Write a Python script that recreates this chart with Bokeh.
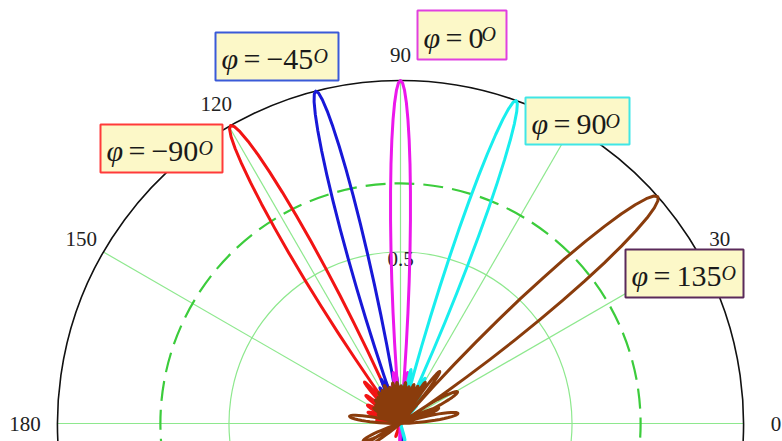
import numpy as np
from bokeh.plotting import figure
from bokeh.models import Range1d
from bokeh.core.properties import value
from bokeh.embed import file_html
from bokeh.resources import INLINE

# ---- data -----------------------------------------------------------------
phi_values = [-90, -45, 0, 90, 135]                 # steering phase, degrees
main_dir = [119.7, 104.3, 90.0, 70.3, 41.4]         # main-lobe direction, deg
main_null = [6.6, 5.5, 5.25, 5.5, 7.9]              # half-angle to first null, deg

red_side_theta = [80, 100, 110, 131, 141, 151, 161, 172, 250]
red_side_r = [0.04, 0.06, 0.13, 0.16, 0.13, 0.11, 0.10, 0.07, 0.04]

blue_side_theta = [70, 80, 89, 95, 113.5, 120, 127, 135, 275]
blue_side_r = [0.04, 0.06, 0.09, 0.14, 0.14, 0.12, 0.09, 0.07, 0.05]

magenta_side_theta = [60, 68, 75, 82, 98, 105, 112, 120, 268]
magenta_side_r = [0.05, 0.08, 0.11, 0.15, 0.15, 0.11, 0.08, 0.05, 0.06]

cyan_side_theta = [48, 55, 61.5, 79, 86, 93, 100, 285]
cyan_side_r = [0.07, 0.10, 0.15, 0.16, 0.11, 0.08, 0.05, 0.05]

brown_side_theta = [10, 22, 29, 53, 59, 65, 71, 77, 83, 89, 95, 101, 107, 113,
                    119, 125, 131, 137, 143, 150, 158, 172, 205, 213]
brown_side_r = [0.17, 0.12, 0.19, 0.19, 0.14, 0.12, 0.12, 0.11, 0.12, 0.11,
                0.12, 0.12, 0.11, 0.12, 0.11, 0.11, 0.10, 0.10, 0.09, 0.09,
                0.07, 0.15, 0.12, 0.13]

angle_ticks = [0, 30, 60, 90, 120, 150, 180]
angle_tick_labels = ["0", "30", "60", "90", "120", "150", "180"]
radius_ticks = [0.5, 0.7, 1.0]

side_theta = [red_side_theta, blue_side_theta, magenta_side_theta,
              cyan_side_theta, brown_side_theta]
side_r = [red_side_r, blue_side_r, magenta_side_r, cyan_side_r, brown_side_r]

beam_colors = ["#f21414", "#1818d8", "#ec18ec", "#18eeee", "#8a3c0c"]
box_border = ["#ff3a3a", "#3a5ad8", "#e040e0", "#40e6e6", "#5a2a5a"]

# ---- geometry helpers -----------------------------------------------------
SCALE = 343.0      # pixels per unit radius
CX, CY = 400.0, 423.0
W, H = 782, 441


def X(px):
    return (px - CX) / SCALE


def Y(py):
    return (CY - py) / SCALE


# outline of one lobe of the array factor (sinc-shaped petal)
PETAL_F = np.linspace(-1.0, 1.0, 31)
PETAL_SHAPE = np.abs(np.sinc(PETAL_F))


def petal(theta0, r0, hw):
    th = np.radians(theta0 + hw * PETAL_F)
    r = r0 * PETAL_SHAPE
    return th, r


def beam_path(k):
    base = 0.5 * main_null[k]
    lobes = [(main_dir[k], 1.0, main_null[k])]
    for t, r in zip(side_theta[k], side_r[k]):
        s = max(abs(np.sin(np.radians(t))), 0.45)
        lobes.append((t, r, base / s))
    lobes.sort(key=lambda a: a[0])
    th_all, r_all = [], []
    for t, r, hw in lobes:
        th, rr = petal(t, r, hw)
        th_all.append(th)
        r_all.append(rr)
    th = np.concatenate(th_all)
    r = np.concatenate(r_all)
    return r * np.cos(th), r * np.sin(th)


# ---- figure ---------------------------------------------------------------
p = figure(width=W, height=H, output_backend="svg", toolbar_location=None,
           x_range=Range1d(X(0), X(W)), y_range=Range1d(Y(H), Y(0)),
           x_axis_type=None, y_axis_type=None, min_border=0)
p.outline_line_color = None
p.grid.visible = False
p.background_fill_color = "white"
p.border_fill_color = "white"

serif = value("Liberation Serif")

# radial grid
ang = np.radians(angle_ticks)
p.segment(x0=0, y0=0, x1=np.cos(ang), y1=np.sin(ang),
          line_color="#8ee88e", line_width=1.2)

# circular grid: 0.5 solid, 0.7 dashed (-3 dB), 1.0 outer black
p.arc(x=0, y=0, radius=radius_ticks[0], start_angle=-0.3, end_angle=np.pi + 0.3,
      line_color="#8ee88e", line_width=1.2)
p.arc(x=0, y=0, radius=radius_ticks[1], start_angle=-0.3, end_angle=np.pi + 0.3,
      line_color="#3ccc3c", line_width=2.2, line_dash="20 9")
p.arc(x=0, y=0, radius=radius_ticks[2], start_angle=-0.3, end_angle=np.pi + 0.3,
      line_color="#111111", line_width=1.6)

# tick labels (glyphs, so the annotation boxes can sit over them)
tick_rad = [1.095 if a in (0, 180) else 1.075 for a in angle_ticks]
p.text(x=[rr * np.cos(np.radians(a)) for a, rr in zip(angle_ticks, tick_rad)],
       y=[rr * np.sin(np.radians(a)) for a, rr in zip(angle_ticks, tick_rad)],
       text=angle_tick_labels, text_align="center", text_baseline="middle",
       text_font=serif, text_font_size="21px", text_color="#222222")
p.text(x=[0], y=[radius_ticks[0]], text=["0.5"], text_align="center",
       text_baseline="top", text_font=serif, text_font_size="21px",
       text_color="#222222")

# beam patterns
for k in range(len(phi_values)):
    bx, by = beam_path(k)
    p.line(bx, by, line_color=beam_colors[k], line_width=3, line_join="round")

# annotation boxes: (left, top, right, bottom) px and superscript x
boxes = [(100, 124, 222, 172), (215, 32, 338, 80), (417, 10, 506, 59),
         (525, 97, 629, 144), (625, 249, 743, 297)]
sup_x = [198, 313, 481, 605, 721]

for k, v in enumerate(phi_values):
    l, t, r, b = boxes[k]
    p.quad(left=X(l), right=X(r), top=Y(t), bottom=Y(b),
           fill_color="#fcf8c8", line_color=box_border[k], line_width=2)
    num = f"\u2212{abs(v)}" if v < 0 else f"{v}"
    mid = (t + b) / 2 + 2
    p.text(x=[X(l + 6)], y=[Y(mid)], text=["\u03c6"], text_align="left",
           text_baseline="middle", text_font=serif, text_font_style="italic",
           text_font_size="30px", text_color="#1a1a1a")
    p.text(x=[X(l + 28)], y=[Y(mid)], text=[f"=\u2009{num}"], text_align="left",
           text_baseline="middle", text_font=serif, text_font_size="30px",
           text_color="#1a1a1a")
    p.text(x=[X(sup_x[k])], y=[Y(t + 12)], text=["O"], text_align="left",
           text_baseline="top", text_font=serif, text_font_style="italic",
           text_font_size="20px", text_color="#1a1a1a")

open("out.html", "w").write(file_html(p, INLINE))
